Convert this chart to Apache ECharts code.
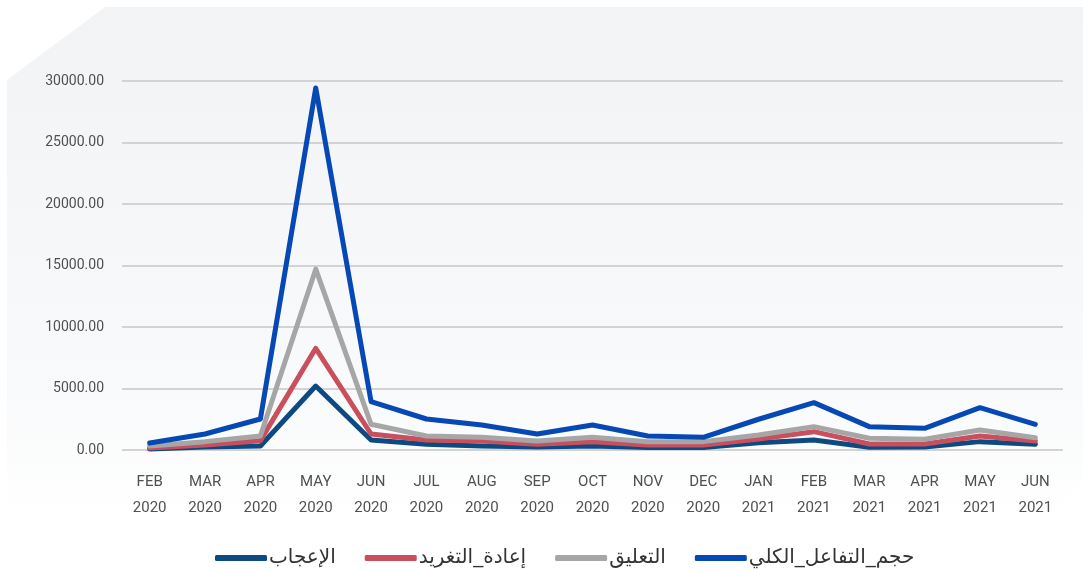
<!DOCTYPE html>
<html>
<head>
<meta charset="utf-8">
<script src="https://cdn.jsdelivr.net/npm/echarts@6/dist/echarts.min.js"></script>
<style>
  html, body { margin: 0; padding: 0; background: #ffffff; }
  #chart { width: 1083px; height: 570px; }
</style>
</head>
<body>
<div id="chart"></div>
<script>
// months, Feb 2020 .. Jun 2021
var months = ['FEB\n2020', 'MAR\n2020', 'APR\n2020', 'MAY\n2020', 'JUN\n2020', 'JUL\n2020',
  'AUG\n2020', 'SEP\n2020', 'OCT\n2020', 'NOV\n2020', 'DEC\n2020', 'JAN\n2021',
  'FEB\n2021', 'MAR\n2021', 'APR\n2021', 'MAY\n2021', 'JUN\n2021'];

var likes    = [80, 250, 330, 5200, 810, 460, 330, 250, 330, 200, 200, 590, 810, 220, 250, 680, 460];
var retweets = [160, 400, 760, 8270, 1300, 810, 730, 460, 680, 400, 400, 890, 1490, 490, 490, 1140, 730];
var comments = [330, 680, 1140, 14700, 2090, 1140, 1030, 730, 1030, 680, 680, 1220, 1900, 950, 870, 1630, 1000];
var total    = [570, 1300, 2520, 29430, 3930, 2520, 2030, 1300, 2030, 1140, 1030, 2500, 3850, 1900, 1760, 3440, 2090];

var names = ['الإعجاب', 'إعادة_التغريد', 'التعليق', 'حجم_التفاعل_الكلي'];
var colors = ['#0e4a82', '#c94f5d', '#a6a6a6', '#0648b4'];

var myChart = echarts.init(document.getElementById('chart'));

function line(name, data, color) {
  return {
    name: name,
    type: 'line',
    data: data,
    symbol: 'none',
    lineStyle: { width: 5, color: color, cap: 'round', join: 'round' },
    itemStyle: { color: color }
  };
}

var option = {
  backgroundColor: '#ffffff',
  animation: false,
  graphic: [{
    type: 'polygon',
    z: -10,
    silent: true,
    shape: {
      points: [[105, 7], [1083, 7], [1083, 480], [1000, 570], [7, 570], [7, 80]]
    },
    style: {
      fill: new echarts.graphic.LinearGradient(0, 0, 0, 1, [
        { offset: 0, color: '#f2f3f5' },
        { offset: 0.7, color: '#f9fafb' },
        { offset: 0.9, color: '#ffffff' }
      ])
    }
  }],
  grid: { left: 122, right: 20, top: 81, bottom: 120 },
  legend: {
    left: 210,
    top: 543,
    itemWidth: 52,
    itemHeight: 6,
    itemGap: 29,
    icon: 'roundRect',
    textStyle: { fontSize: 20, color: '#333', fontFamily: 'DejaVu Sans', padding: [0, 0, 0, -3] },
    data: names
  },
  xAxis: {
    type: 'category',
    data: months,
    boundaryGap: true,
    axisLine: { show: false },
    axisTick: { show: false },
    axisLabel: {
      color: '#505050',
      fontSize: 15,
      lineHeight: 26,
      margin: 19,
      fontFamily: 'Roboto'
    }
  },
  yAxis: {
    type: 'value',
    min: 0,
    max: 30000,
    interval: 5000,
    axisLine: { show: false },
    axisTick: { show: false },
    splitLine: { lineStyle: { color: '#d3d3d3', width: 2 } },
    axisLabel: {
      color: '#505050',
      fontSize: 14,
      margin: 18,
      fontFamily: 'Roboto',
      formatter: function (v) { return v.toFixed(2); }
    }
  },
  series: [
    line(names[0], likes, colors[0]),
    line(names[1], retweets, colors[1]),
    line(names[2], comments, colors[2]),
    line(names[3], total, colors[3])
  ]
};

option && myChart.setOption(option);
</script>
</body>
</html>
